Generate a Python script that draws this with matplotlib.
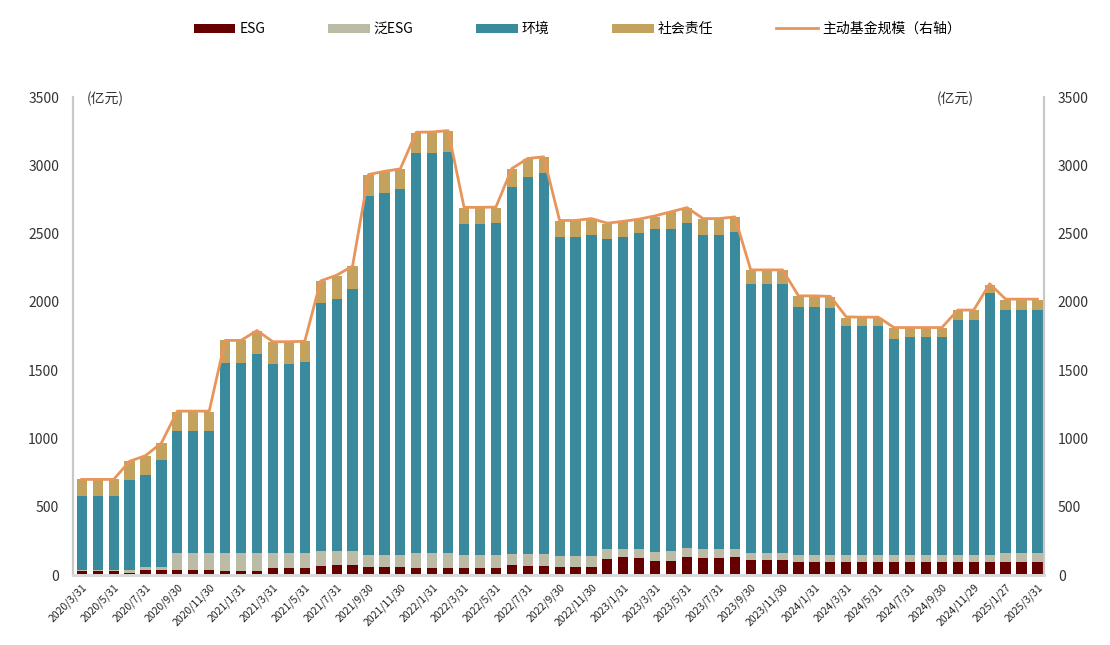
import matplotlib.pyplot as plt
import numpy as np

plt.rcParams['font.family'] = ['Noto Sans CJK SC', 'DejaVu Sans']

# cumulative tops (亿元), one entry per month 2020/3 .. 2025/3
esg_top = [28, 28, 28, 16, 40, 40, 40, 40, 40, 30, 30, 30, 48, 48, 48, 64, 77, 77,
           57, 57, 57, 55, 55, 55, 55, 55, 55, 77, 66, 66, 57, 57, 57, 120, 133, 126,
           106, 106, 133, 121, 121, 133, 108, 108, 108, 94, 94, 94, 94, 94, 94, 94, 94,
           94, 94, 94, 94, 94, 94, 94, 94]
pan_top = [40, 40, 40, 35, 57, 57, 162, 162, 162, 162, 162, 162, 162, 162, 162, 179, 179, 179,
           150, 150, 150, 162, 162, 162, 145, 145, 145, 155, 155, 155, 137, 137, 137, 187, 194, 194,
           170, 177, 199, 187, 187, 194, 162, 162, 162, 145, 145, 145, 150, 150, 150, 150, 150,
           150, 150, 150, 150, 150, 162, 162, 162]
env_top = [580, 580, 580, 699, 730, 840, 1052, 1052, 1052, 1552, 1552, 1620, 1547, 1547, 1562,
           1993, 2023, 2094, 2776, 2800, 2825, 3088, 3093, 3100, 2571, 2571, 2576, 2844, 2913, 2942,
           2478, 2478, 2491, 2462, 2478, 2503, 2535, 2535, 2577, 2491, 2491, 2508, 2132, 2132, 2132,
           1959, 1959, 1954, 1825, 1825, 1825, 1730, 1742, 1742, 1742, 1869, 1869, 2064, 1942, 1942,
           1942]
total = [700, 700, 700, 833, 874, 967, 1194, 1194, 1194, 1718, 1718, 1784, 1703, 1703, 1710,
         2154, 2191, 2259, 2930, 2954, 2971, 3239, 3239, 3252, 2690, 2690, 2690, 2974, 3047, 3059,
         2593, 2593, 2608, 2572, 2584, 2600, 2625, 2657, 2686, 2606, 2606, 2620, 2230, 2230, 2230,
         2040, 2040, 2035, 1885, 1881, 1881, 1808, 1808, 1808, 1808, 1937, 1937, 2125, 2015, 2015,
         2015]
active_scale = [700, 700, 700, 833, 874, 967, 1200, 1200, 1200, 1718, 1718, 1790, 1708, 1708, 1712,
                2154, 2195, 2262, 2932, 2956, 2974, 3242, 3244, 3254, 2692, 2692, 2694, 2976, 3050, 3062,
                2596, 2596, 2610, 2576, 2590, 2606, 2630, 2660, 2690, 2610, 2610, 2622, 2234, 2234, 2234,
                2044, 2044, 2040, 1890, 1888, 1888, 1812, 1812, 1812, 1812, 1940, 1940, 2132, 2020, 2020,
                2020]
tick_labels = ['2020/3/31', '2020/5/31', '2020/7/31', '2020/9/30', '2020/11/30', '2021/1/31',
               '2021/3/31', '2021/5/31', '2021/7/31', '2021/9/30', '2021/11/30', '2022/1/31',
               '2022/3/31', '2022/5/31', '2022/7/31', '2022/9/30', '2022/11/30', '2023/1/31',
               '2023/3/31', '2023/5/31', '2023/7/31', '2023/9/30', '2023/11/30', '2024/1/31',
               '2024/3/31', '2024/5/31', '2024/7/31', '2024/9/30', '2024/11/29', '2025/1/27',
               '2025/3/31']

esg = np.array(esg_top)
pan = np.array(pan_top) - esg
env = np.array(env_top) - np.array(pan_top)
soc = np.array(total) - np.array(env_top)
x = np.arange(len(esg))

c_esg, c_pan, c_env, c_soc, c_line = '#660000', '#BBBBA6', '#3A8A9E', '#C3A25E', '#E8955A'

fig = plt.figure(figsize=(11.1, 6.45), dpi=100)
ax = fig.add_axes([0.0658, 0.1085, 0.8747, 0.7411])
w = 0.64
ax.bar(x, esg, w, color=c_esg, label='ESG')
ax.bar(x, pan, w, bottom=esg, color=c_pan, label='泛ESG')
ax.bar(x, env, w, bottom=esg + pan, color=c_env, label='环境')
ax.bar(x, soc, w, bottom=esg + pan + env, color=c_soc, label='社会责任')

ax2 = ax.twinx()
ax2.plot(x, active_scale, color=c_line, lw=2, label='主动基金规模（右轴）')

for a in (ax, ax2):
    a.set_ylim(0, 3500)
    a.set_yticks(np.arange(0, 3501, 500))
    a.tick_params(length=0, labelsize=10, colors='#333333', pad=10)
    a.spines['top'].set_visible(False)
    for s in ('left', 'right'):
        a.spines[s].set_color('#C8C8C8')
        a.spines[s].set_linewidth(1.5)
    a.spines['bottom'].set_color('#DADADA')
    a.spines['bottom'].set_linewidth(2)
ax.set_xlim(-0.55, 60.41)
ax.set_xticks(x[::2])
ax.set_xticklabels(tick_labels, rotation=45, ha='right', rotation_mode='anchor',
                   fontsize=7.5, color='#222222')
ax.tick_params(axis='x', pad=5)

ax.text(0.014, 0.995, '(亿元)', transform=ax.transAxes, fontsize=10, va='center', color='#333333')
ax.text(0.89, 0.995, '(亿元)', transform=ax.transAxes, fontsize=10, va='center', color='#333333')

h1, l1 = ax.get_legend_handles_labels()
h2, l2 = ax2.get_legend_handles_labels()
fig.legend(h1 + h2, l1 + l2, loc='center', bbox_to_anchor=(0.52, 0.955), ncol=5, frameon=False,
           fontsize=10, handlelength=3, handleheight=0.6, columnspacing=4.5, handletextpad=0.3)

fig.savefig('out.png', dpi=100)
